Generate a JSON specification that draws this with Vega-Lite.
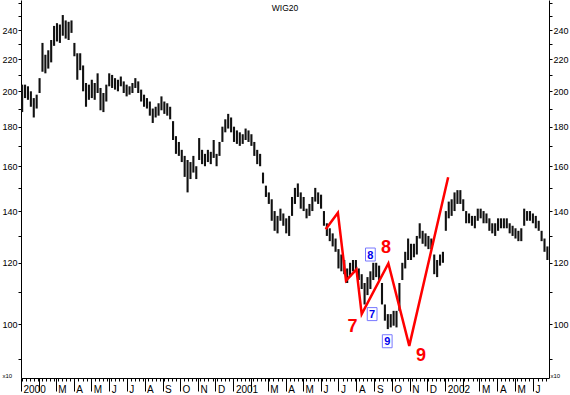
{
  "$schema": "https://vega.github.io/schema/vega-lite/v6.json",
  "width": 528,
  "height": 378,
  "autosize": {"type": "none"},
  "padding": {"left": 21, "top": 0, "right": 21, "bottom": 17},
  "background": "white",
  "title": {"text": "WIG20", "font": "Liberation Sans", "fontSize": 8.5, "fontWeight": "normal", "color": "black", "frame": "group", "anchor": "middle", "offset": -12},
  "config": {
    "view": {"stroke": null},
    "axis": {"labelFont": "Liberation Sans", "labelColor": "black", "domainColor": "black", "tickColor": "black", "grid": false, "titleFont": "Liberation Sans", "titleColor": "black"}
  },
  "datasets": {
    "bars": [
      {"d":"2000-01-03","h":204,"l":188},{"d":"2000-01-08","h":204,"l":196},{"d":"2000-01-13","h":203,"l":195},{"d":"2000-01-18","h":200,"l":191},{"d":"2000-01-23","h":196,"l":185},{"d":"2000-01-28","h":198,"l":190},
      {"d":"2000-02-02","h":208,"l":199},{"d":"2000-02-07","h":231,"l":212},{"d":"2000-02-12","h":223,"l":211},{"d":"2000-02-17","h":226,"l":214},{"d":"2000-02-22","h":233,"l":218},{"d":"2000-02-27","h":243,"l":229},
      {"d":"2000-03-03","h":245,"l":232},{"d":"2000-03-08","h":244,"l":231},{"d":"2000-03-13","h":251,"l":236},{"d":"2000-03-18","h":247,"l":234},{"d":"2000-03-23","h":246,"l":233},{"d":"2000-03-28","h":247,"l":238},
      {"d":"2000-04-02","h":231,"l":222},{"d":"2000-04-07","h":224,"l":207},{"d":"2000-04-12","h":224,"l":213},{"d":"2000-04-17","h":216,"l":200},{"d":"2000-04-22","h":205,"l":191},{"d":"2000-04-27","h":204,"l":195},
      {"d":"2000-05-02","h":207,"l":196},{"d":"2000-05-07","h":205,"l":195},{"d":"2000-05-12","h":211,"l":199},{"d":"2000-05-17","h":202,"l":189},{"d":"2000-05-22","h":199,"l":188},{"d":"2000-05-27","h":204,"l":194},
      {"d":"2000-06-01","h":211,"l":203},{"d":"2000-06-06","h":210,"l":202},{"d":"2000-06-11","h":208,"l":201},{"d":"2000-06-16","h":207,"l":200},{"d":"2000-06-21","h":209,"l":203},{"d":"2000-06-26","h":206,"l":199},
      {"d":"2000-07-01","h":204,"l":197},{"d":"2000-07-06","h":203,"l":198},{"d":"2000-07-11","h":205,"l":199},{"d":"2000-07-16","h":208,"l":202},{"d":"2000-07-21","h":206,"l":199},{"d":"2000-07-26","h":201,"l":194},{"d":"2000-07-31","h":198,"l":191},
      {"d":"2000-08-05","h":196,"l":190},{"d":"2000-08-10","h":194,"l":186},{"d":"2000-08-15","h":190,"l":182},{"d":"2000-08-20","h":191,"l":185},{"d":"2000-08-25","h":193,"l":186},{"d":"2000-08-30","h":197,"l":189},
      {"d":"2000-09-04","h":194,"l":187},{"d":"2000-09-09","h":193,"l":186},{"d":"2000-09-14","h":191,"l":184},{"d":"2000-09-19","h":183,"l":173},{"d":"2000-09-24","h":175,"l":166},{"d":"2000-09-29","h":172,"l":165},
      {"d":"2000-10-04","h":168,"l":162},{"d":"2000-10-09","h":165,"l":155},{"d":"2000-10-14","h":163,"l":148},{"d":"2000-10-19","h":162,"l":154},{"d":"2000-10-24","h":165,"l":157},{"d":"2000-10-29","h":160,"l":154},
      {"d":"2000-11-03","h":174,"l":163},{"d":"2000-11-08","h":168,"l":161},{"d":"2000-11-13","h":166,"l":160},{"d":"2000-11-18","h":168,"l":162},{"d":"2000-11-23","h":167,"l":161},{"d":"2000-11-28","h":173,"l":164},
      {"d":"2000-12-03","h":166,"l":160},{"d":"2000-12-08","h":172,"l":165},{"d":"2000-12-13","h":180,"l":172},{"d":"2000-12-18","h":184,"l":177},{"d":"2000-12-23","h":187,"l":179},{"d":"2000-12-28","h":185,"l":177},
      {"d":"2001-01-02","h":180,"l":172},{"d":"2001-01-07","h":178,"l":171},{"d":"2001-01-12","h":177,"l":170},{"d":"2001-01-17","h":176,"l":171},{"d":"2001-01-22","h":179,"l":173},{"d":"2001-01-27","h":178,"l":172},
      {"d":"2001-02-01","h":176,"l":170},{"d":"2001-02-06","h":172,"l":165},{"d":"2001-02-11","h":168,"l":161},{"d":"2001-02-16","h":166,"l":160},{"d":"2001-02-21","h":157,"l":152},{"d":"2001-02-26","h":151,"l":146},
      {"d":"2001-03-03","h":148,"l":143},{"d":"2001-03-08","h":145,"l":136},{"d":"2001-03-13","h":140,"l":132},{"d":"2001-03-18","h":138,"l":131},{"d":"2001-03-23","h":141,"l":136},{"d":"2001-03-28","h":139,"l":134},
      {"d":"2001-04-02","h":137,"l":131},{"d":"2001-04-07","h":138,"l":130},{"d":"2001-04-12","h":146,"l":138},{"d":"2001-04-17","h":150,"l":143},{"d":"2001-04-22","h":152,"l":146},{"d":"2001-04-27","h":148,"l":141},
      {"d":"2001-05-02","h":146,"l":140},{"d":"2001-05-07","h":141,"l":137},{"d":"2001-05-12","h":143,"l":138},{"d":"2001-05-17","h":146,"l":140},{"d":"2001-05-22","h":150,"l":144},{"d":"2001-05-27","h":148,"l":143},
      {"d":"2001-06-01","h":147,"l":141},{"d":"2001-06-06","h":140,"l":134},{"d":"2001-06-11","h":135,"l":130},{"d":"2001-06-16","h":133,"l":128},{"d":"2001-06-21","h":131,"l":126},{"d":"2001-06-26","h":129,"l":124},
      {"d":"2001-07-01","h":125,"l":118},{"d":"2001-07-06","h":123,"l":117},{"d":"2001-07-11","h":121,"l":116},{"d":"2001-07-16","h":118,"l":113},{"d":"2001-07-21","h":120,"l":115},{"d":"2001-07-26","h":121,"l":117},{"d":"2001-07-31","h":121,"l":117},
      {"d":"2001-08-05","h":118,"l":114},{"d":"2001-08-10","h":116,"l":111},{"d":"2001-08-15","h":113,"l":106},{"d":"2001-08-20","h":115,"l":109},{"d":"2001-08-25","h":117,"l":111},{"d":"2001-08-30","h":120,"l":114},
      {"d":"2001-09-04","h":120,"l":115},{"d":"2001-09-09","h":119,"l":114},{"d":"2001-09-14","h":113,"l":106},{"d":"2001-09-19","h":106,"l":101},{"d":"2001-09-24","h":103,"l":98.5},{"d":"2001-09-29","h":103,"l":99},
      {"d":"2001-10-04","h":104,"l":99.5},{"d":"2001-10-09","h":104,"l":99},{"d":"2001-10-14","h":113,"l":104},{"d":"2001-10-19","h":120,"l":114},{"d":"2001-10-24","h":124,"l":118},{"d":"2001-10-29","h":129,"l":121},
      {"d":"2001-11-03","h":127,"l":121},{"d":"2001-11-08","h":127,"l":122},{"d":"2001-11-13","h":130,"l":123},{"d":"2001-11-18","h":135,"l":129},{"d":"2001-11-23","h":132,"l":127},{"d":"2001-11-28","h":131,"l":126},
      {"d":"2001-12-03","h":130,"l":125},{"d":"2001-12-08","h":129,"l":125},{"d":"2001-12-13","h":123,"l":116},{"d":"2001-12-18","h":121,"l":115},{"d":"2001-12-23","h":123,"l":119},{"d":"2001-12-28","h":124,"l":120},
      {"d":"2002-01-02","h":140,"l":132},{"d":"2002-01-07","h":144,"l":137},{"d":"2002-01-12","h":145,"l":138},{"d":"2002-01-17","h":148,"l":140},{"d":"2002-01-22","h":149,"l":143},{"d":"2002-01-27","h":149,"l":143},
      {"d":"2002-02-01","h":145,"l":140},{"d":"2002-02-06","h":140,"l":135},{"d":"2002-02-11","h":139,"l":135},{"d":"2002-02-16","h":138,"l":134},{"d":"2002-02-21","h":138,"l":133},{"d":"2002-02-26","h":141,"l":136},
      {"d":"2002-03-03","h":141,"l":137},{"d":"2002-03-08","h":140,"l":135},{"d":"2002-03-13","h":139,"l":135},{"d":"2002-03-18","h":137,"l":132},{"d":"2002-03-23","h":135,"l":131},{"d":"2002-03-28","h":135,"l":130},
      {"d":"2002-04-02","h":137,"l":132},{"d":"2002-04-07","h":137,"l":133},{"d":"2002-04-12","h":137,"l":133},{"d":"2002-04-17","h":137,"l":133},{"d":"2002-04-22","h":135,"l":131},{"d":"2002-04-27","h":134,"l":130},
      {"d":"2002-05-02","h":133,"l":129},{"d":"2002-05-07","h":132,"l":128},{"d":"2002-05-12","h":133,"l":128},{"d":"2002-05-17","h":141,"l":134},{"d":"2002-05-22","h":140,"l":136},{"d":"2002-05-27","h":140,"l":136},
      {"d":"2002-06-01","h":139,"l":135},{"d":"2002-06-06","h":138,"l":133},{"d":"2002-06-11","h":136,"l":132},{"d":"2002-06-16","h":132,"l":128},{"d":"2002-06-21","h":129,"l":124},{"d":"2002-06-26","h":126,"l":121}
    ],
    "redline": [
      {"d":"2001-06-09","v":132.6},{"d":"2001-06-30","v":139.3},{"d":"2001-07-14","v":113.8},{"d":"2001-08-01","v":117.7},
      {"d":"2001-08-10","v":103.0},{"d":"2001-09-25","v":119.8},{"d":"2001-10-31","v":93.7},{"d":"2002-01-06","v":154.8}
    ],
    "redlabels": [
      {"d":"2001-07-25","v":99.5,"t":"7"},{"d":"2001-09-21","v":125.9,"t":"8"},{"d":"2001-11-20","v":91.3,"t":"9"}
    ],
    "bluelabels": [
      {"d":"2001-08-25","v":123.0,"t":"8"},{"d":"2001-08-28","v":103.0,"t":"7"},{"d":"2001-09-23","v":95.0,"t":"9"}
    ]
  },
  "layer": [
    {
      "data": {"name": "bars"},
      "mark": {"type": "rule", "color": "#111111", "strokeWidth": 2.1},
      "encoding": {
        "x": {"field": "d", "type": "temporal",
          "scale": {"domain": [{"year": 2000, "month": 1, "date": 1}, {"year": 2002, "month": 6, "date": 28, "hours": 18}]},
          "axis": {"orient": "bottom", "title": null, "tickCount": {"interval": "month", "step": 1}, "tickSize": 13, "labelAlign": "left", "labelOffset": 2, "labelPadding": -7, "labelFontSize": 10, "labelOverlap": false, "labelFlush": false, "labelBound": false,
            "labelExpr": "month(datum.value)==0 ? timeFormat(datum.value,'%Y') : (month(datum.value)==1 ? '' : slice(timeFormat(datum.value,'%B'),0,1))"}},
        "y": {"field": "l", "type": "quantitative",
          "scale": {"type": "log", "domain": [85.15, 262.5]},
          "axis": {"orient": "left", "values": [90,100,110,120,130,140,150,160,170,180,190,200,210,220,230,240,250,260], "tickSize": 3, "labelPadding": 1, "labelFontSize": 9,
            "labelExpr": "(datum.value % 20 == 0 && datum.value >= 100 && datum.value <= 240) ? format(datum.value,'d') : ''",
            "title": "x10", "titleAngle": 0, "titleX": -19, "titleY": 378, "titleAlign": "left", "titleBaseline": "bottom", "titleFontSize": 6, "titleFontWeight": "normal"}},
        "y2": {"field": "h"}
      }
    },
    {
      "data": {"name": "redline"},
      "mark": {"type": "line", "color": "#FF0000", "strokeWidth": 2.5},
      "encoding": {
        "x": {"field": "d", "type": "temporal",
          "scale": {"domain": [{"year": 2000, "month": 1, "date": 1}, {"year": 2002, "month": 6, "date": 28, "hours": 18}]},
          "axis": {"orient": "bottom", "title": null, "tickCount": {"interval": "week", "step": 1}, "tickSize": 3, "labels": false, "domain": false}},
        "y": {"field": "v", "type": "quantitative",
          "scale": {"type": "log", "domain": [85.15, 262.5]},
          "axis": {"orient": "right", "values": [90,100,110,120,130,140,150,160,170,180,190,200,210,220,230,240,250,260], "tickSize": 3, "labelPadding": 1, "labelFontSize": 9,
            "labelExpr": "(datum.value % 20 == 0 && datum.value >= 100 && datum.value <= 240) ? format(datum.value,'d') : ''",
            "title": "x10", "titleAngle": 0, "titleX": 1, "titleY": 378, "titleAlign": "left", "titleBaseline": "bottom", "titleFontSize": 6, "titleFontWeight": "normal"}}
      }
    },
    {
      "data": {"name": "bluelabels"},
      "mark": {"type": "point", "shape": "M-0.75,-1H0.75V1H-0.75Z", "size": 169, "filled": true, "fill": "white", "stroke": "#7878FF", "strokeWidth": 1, "opacity": 1},
      "encoding": {
        "x": {"field": "d", "type": "temporal", "scale": {"domain": [{"year": 2000, "month": 1, "date": 1}, {"year": 2002, "month": 6, "date": 28, "hours": 18}]}, "axis": null},
        "y": {"field": "v", "type": "quantitative", "scale": {"type": "log", "domain": [85.15, 262.5]}, "axis": null}
      }
    },
    {
      "data": {"name": "bluelabels"},
      "mark": {"type": "text", "font": "Liberation Sans", "fontSize": 11, "fontWeight": "bold", "color": "#0000EE", "align": "center", "baseline": "middle", "dy": 1},
      "encoding": {
        "x": {"field": "d", "type": "temporal", "scale": {"domain": [{"year": 2000, "month": 1, "date": 1}, {"year": 2002, "month": 6, "date": 28, "hours": 18}]}, "axis": null},
        "y": {"field": "v", "type": "quantitative", "scale": {"type": "log", "domain": [85.15, 262.5]}, "axis": null},
        "text": {"field": "t", "type": "nominal"}
      }
    },
    {
      "data": {"name": "redlabels"},
      "mark": {"type": "text", "font": "Liberation Sans", "fontSize": 18, "fontWeight": "bold", "color": "#FF0000", "align": "center", "baseline": "middle", "dy": 1},
      "encoding": {
        "x": {"field": "d", "type": "temporal", "scale": {"domain": [{"year": 2000, "month": 1, "date": 1}, {"year": 2002, "month": 6, "date": 28, "hours": 18}]}, "axis": null},
        "y": {"field": "v", "type": "quantitative", "scale": {"type": "log", "domain": [85.15, 262.5]}, "axis": null},
        "text": {"field": "t", "type": "nominal"}
      }
    }
  ],
  "resolve": {"scale": {"x": "independent", "y": "independent"}, "axis": {"x": "independent", "y": "independent"}}
}
